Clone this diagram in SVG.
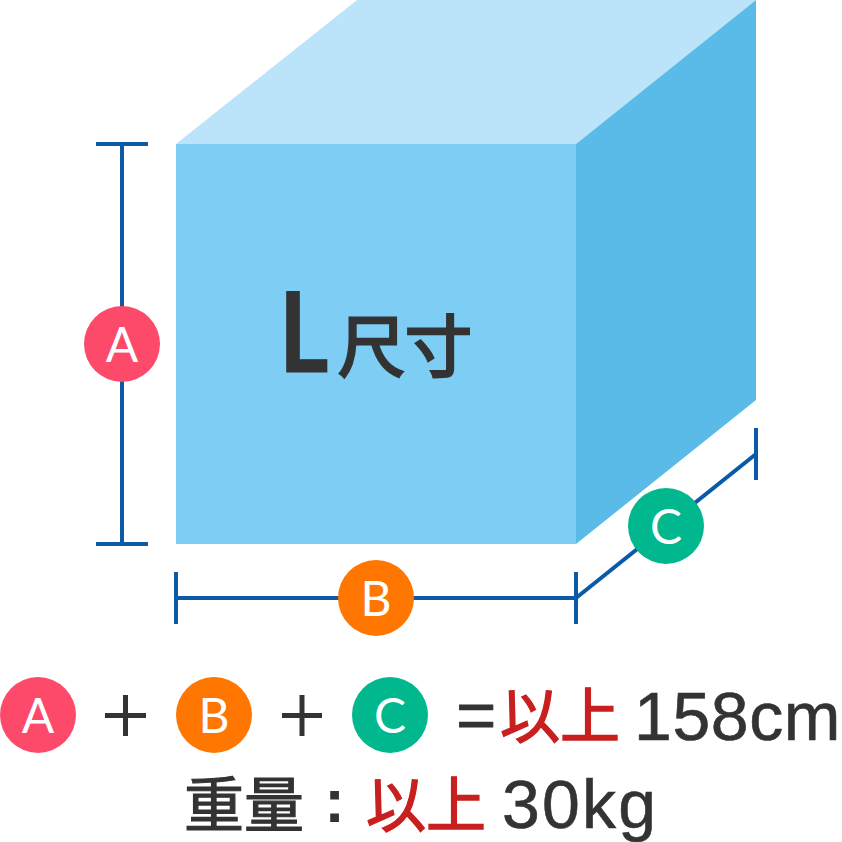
<svg xmlns="http://www.w3.org/2000/svg" width="842" height="842" viewBox="0 0 842 842">
<style>
.d{stroke:#0a5aa8;stroke-width:4;fill:none}
.t{font-family:"Liberation Sans","Noto Sans CJK JP",sans-serif;text-anchor:middle}
.b{font-family:Lato,"Noto Sans",sans-serif;font-size:48px;fill:#fff;text-anchor:middle}
.l{font-family:"Liberation Sans",sans-serif;font-size:68px;fill:#333;stroke:#333;stroke-width:.6}
.k{fill:#333;stroke:#333;stroke-width:1.2}
.r{fill:#c8201f;stroke:#c8201f;stroke-width:1.4}
.p{stroke:#333;stroke-width:5;fill:none}
</style>
<rect width="842" height="842" fill="#fff"/>
<g id="box">
<polygon points="176,144 357,0 756,0 576,144" fill="#bbe3fa"/>
<polygon points="576,144 756,0 756,400 576,544" fill="#5abbe8"/>
<rect x="176" y="144" width="400" height="400" fill="#7ecdf4"/>
<text transform="translate(279,372) scale(.85,1)" font-family="Lato,sans-serif" font-size="112" font-weight="700" fill="#333" stroke="#333" stroke-width=".8">L</text>
<text x="405" y="371" class="t" font-size="67" fill="#333" stroke="#333" stroke-width="2.8">尺寸</text>
</g>
<g id="connectors">
<path class="d" d="M122,144V544M96,144H148M96,544H148"/>
<path class="d" d="M176,598H576M176,572V624M576,572V624"/>
<path class="d" d="M576,598L756,454M756,428V480"/>
</g>
<g id="node-a"><circle cx="122" cy="344" r="38" fill="#fe4a6a"/><text x="122" y="362" class="b">A</text></g>
<g id="node-b"><circle cx="376" cy="598" r="38" fill="#ff7700"/><text x="376" y="616" class="b">B</text></g>
<g id="node-c"><circle cx="666" cy="526" r="38" fill="#00b78e"/><text x="666" y="544" class="b">C</text></g>
<g id="formula">
<circle cx="38" cy="715" r="38" fill="#fe4a6a"/><text x="38" y="733" class="b">A</text>
<path class="p" d="M105,715.500H146M125.500,695V736"/>
<circle cx="214" cy="715" r="38" fill="#ff7700"/><text x="214" y="733" class="b">B</text>
<path class="p" d="M282,715.500H322M302,695V736"/>
<circle cx="390" cy="715" r="38" fill="#00b78e"/><text x="390" y="733" class="b">C</text>
<text x="456" y="739" font-family="'Liberation Sans',sans-serif" font-size="69" fill="#333" stroke="#333" stroke-width=".8">=</text>
<text x="560" y="738" class="t r" font-size="60">以上</text>
<text x="634" y="740" class="l" letter-spacing=".6">158cm</text>
</g>
<g id="weight">
<text x="244" y="827" class="t k" font-size="60">重量</text>
<text x="334.500" y="822" class="t" font-size="62" font-weight="700" fill="#333">:</text>
<text x="426" y="827" class="t r" font-size="60">以上</text>
<text x="502" y="828" class="l" letter-spacing="2.2">30kg</text>
</g>
</svg>
